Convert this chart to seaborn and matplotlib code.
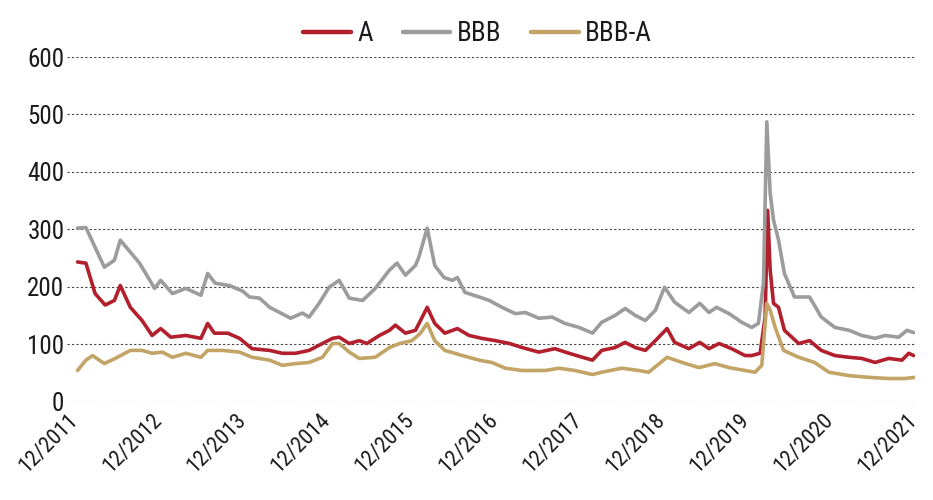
import pandas as pd
import matplotlib
matplotlib.use('Agg')
import matplotlib.pyplot as plt
import matplotlib.dates as mdates
from matplotlib import font_manager
import seaborn as sns

# Values (spread in bp), dates as decimal years
a_dates = [2012.03, 2012.13, 2012.24, 2012.36, 2012.47, 2012.54, 2012.66, 2012.80,
           2012.92, 2013.02, 2013.14, 2013.32, 2013.50, 2013.58, 2013.66, 2013.82,
           2013.96, 2014.11, 2014.32, 2014.47, 2014.63, 2014.79, 2014.95, 2015.07,
           2015.15, 2015.27, 2015.39, 2015.48, 2015.63, 2015.75, 2015.82, 2015.94,
           2016.06, 2016.12, 2016.20, 2016.29, 2016.41, 2016.56, 2016.70, 2016.85,
           2017.01, 2017.18, 2017.33, 2017.53, 2017.72, 2017.89, 2018.05, 2018.17,
           2018.28, 2018.44, 2018.56, 2018.68, 2018.80, 2018.92, 2019.06, 2019.15,
           2019.32, 2019.45, 2019.56, 2019.68, 2019.83, 2019.99, 2020.07, 2020.17,
           2020.23, 2020.26, 2020.29, 2020.33, 2020.39, 2020.46, 2020.63, 2020.76,
           2020.90, 2021.06, 2021.23, 2021.38, 2021.54, 2021.70, 2021.86, 2021.94,
           2022.00]
a_values = [243, 241, 188, 168, 176, 202, 164, 141,
            115, 127, 112, 115, 110, 136, 119, 119,
            110, 92, 89, 84, 84, 89, 101, 110,
            112, 101, 106, 101, 115, 124, 133, 119,
            124, 141, 164, 136, 119, 127, 115, 110,
            106, 101, 94, 86, 92, 84, 77, 72,
            89, 94, 103, 94, 89, 106, 127, 103,
            92, 103, 92, 101, 92, 80, 80, 84,
            147, 333, 229, 171, 164, 124, 101, 106,
            89, 80, 77, 75, 68, 75, 72, 84,
            80]

bbb_dates = [2012.03, 2012.13, 2012.35, 2012.47, 2012.54, 2012.77, 2012.95, 2013.02,
             2013.16, 2013.32, 2013.50, 2013.58, 2013.67, 2013.84, 2014.00, 2014.08,
             2014.20, 2014.32, 2014.44, 2014.57, 2014.71, 2014.79, 2014.91, 2015.03,
             2015.15, 2015.27, 2015.43, 2015.58, 2015.75, 2015.84, 2015.94, 2016.06,
             2016.10, 2016.20, 2016.29, 2016.40, 2016.50, 2016.56, 2016.65, 2016.82,
             2016.94, 2017.09, 2017.25, 2017.37, 2017.53, 2017.69, 2017.84, 2018.01,
             2018.17, 2018.28, 2018.44, 2018.56, 2018.68, 2018.80, 2018.92, 2019.03,
             2019.15, 2019.32, 2019.45, 2019.56, 2019.65, 2019.80, 2019.95, 2020.07,
             2020.15, 2020.21, 2020.25, 2020.29, 2020.33, 2020.39, 2020.46, 2020.58,
             2020.76, 2020.90, 2021.06, 2021.23, 2021.38, 2021.54, 2021.66, 2021.82,
             2021.92, 2022.00]
bbb_values = [302, 303, 234, 246, 281, 241, 197, 211,
              188, 197, 185, 223, 206, 202, 192, 182,
              180, 164, 155, 145, 154, 147, 171, 199,
              211, 180, 176, 197, 229, 241, 220, 237,
              251, 302, 237, 216, 211, 216, 190, 182,
              176, 164, 153, 155, 145, 147, 136, 129,
              119, 138, 150, 162, 150, 141, 159, 199,
              173, 155, 171, 155, 164, 153, 138, 129,
              136, 206, 487, 363, 316, 281, 223, 182,
              182, 147, 129, 124, 115, 110, 115, 112,
              124, 120]

diff_dates = [2012.03, 2012.13, 2012.21, 2012.35, 2012.48, 2012.66, 2012.80, 2012.92,
              2013.04, 2013.16, 2013.32, 2013.50, 2013.58, 2013.76, 2013.96, 2014.11,
              2014.32, 2014.47, 2014.63, 2014.79, 2014.95, 2015.07, 2015.15, 2015.27,
              2015.39, 2015.58, 2015.75, 2015.87, 2016.02, 2016.12, 2016.20, 2016.29,
              2016.41, 2016.62, 2016.82, 2016.97, 2017.13, 2017.33, 2017.61, 2017.77,
              2017.96, 2018.17, 2018.28, 2018.52, 2018.72, 2018.84, 2019.06, 2019.24,
              2019.44, 2019.63, 2019.80, 2019.99, 2020.11, 2020.19, 2020.25, 2020.29,
              2020.35, 2020.45, 2020.63, 2020.82, 2020.99, 2021.23, 2021.47, 2021.70,
              2021.89, 2022.01]
diff_values = [54, 72, 80, 66, 75, 89, 89, 84,
               86, 77, 84, 77, 89, 89, 86, 77,
               72, 63, 66, 68, 77, 101, 101, 86,
               75, 77, 94, 101, 106, 119, 136, 106,
               89, 80, 72, 68, 58, 54, 54, 58,
               54, 47, 51, 58, 54, 51, 77, 68,
               59, 66, 59, 54, 51, 63, 171, 159,
               129, 89, 77, 68, 51, 45, 42, 40,
               40, 42]

series_names = ['A', 'BBB', 'BBB-A']
colors = ['#B21F2D', '#9C9C9C', '#C2A566']
year_ticks = list(range(2011, 2022))


def dec_to_date(y):
    year = int(y)
    return pd.Timestamp(year, 1, 1) + pd.to_timedelta((y - year) * 365.25, unit='D')


frames = []
for name, dates, values in zip(series_names,
                               [a_dates, bbb_dates, diff_dates],
                               [a_values, bbb_values, diff_values]):
    frames.append(pd.DataFrame({'date': [dec_to_date(d) for d in dates],
                                'spread': values, 'series': name}))
df = pd.concat(frames, ignore_index=True)

sns.set_style('white')

# Pick a narrow font if one is installed, otherwise shrink the text a bit
installed = {f.name for f in font_manager.fontManager.ttflist}
narrow = [n for n in ['Liberation Sans Narrow', 'DejaVu Sans Condensed',
                      'Roboto Condensed', 'Open Sans Condensed'] if n in installed]
if narrow:
    plt.rcParams['font.family'] = [narrow[0], 'DejaVu Sans']
    ytick_size, xtick_size, legend_size = 18, 16, 19.5
else:
    plt.rcParams['font.family'] = ['Lato', 'DejaVu Sans']
    ytick_size, xtick_size, legend_size = 15.5, 13.5, 17.5

fig = plt.figure(figsize=(9.33, 5.0), dpi=100)
ax = fig.add_axes([0.072, 0.197, 0.909, 0.689])

sns.lineplot(data=df, x='date', y='spread', hue='series', hue_order=series_names,
             palette=colors, linewidth=2.6, estimator=None, ax=ax)

ax.set_ylim(0, 600)
ax.set_yticks(range(0, 601, 100))
ax.set_xlim(pd.Timestamp(2011, 11, 28), pd.Timestamp(2022, 1, 8))
ax.set_xticks([pd.Timestamp(y, 12, 1) for y in year_ticks])
ax.xaxis.set_major_formatter(mdates.DateFormatter('%m/%Y'))

ax.set_xlabel('')
ax.set_ylabel('')
for s in ax.spines.values():
    s.set_visible(False)

# Dotted grid lines on y
ax.grid(axis='y', color='#444444', linestyle=(0, (2, 2)), linewidth=0.8)
ax.grid(axis='x', visible=False)

ax.tick_params(axis='y', length=0, labelsize=ytick_size, labelcolor='#1a1a1a', pad=2)
ax.tick_params(axis='x', length=4, width=0.8, color='#666666', direction='out',
               labelsize=xtick_size, labelcolor='#1a1a1a', pad=2)
plt.setp(ax.get_xticklabels(), rotation=45, ha='right', rotation_mode='anchor')

leg = ax.legend(loc='upper center', bbox_to_anchor=(0.512, 1.008),
                bbox_transform=fig.transFigure, ncol=3, frameon=False,
                fontsize=legend_size, handlelength=1.75, handletextpad=0.25,
                columnspacing=1.1)
for line in leg.get_lines():
    line.set_linewidth(3.2)
for t in leg.get_texts():
    t.set_color('#1a1a1a')

plt.savefig('out.png', dpi=100)
